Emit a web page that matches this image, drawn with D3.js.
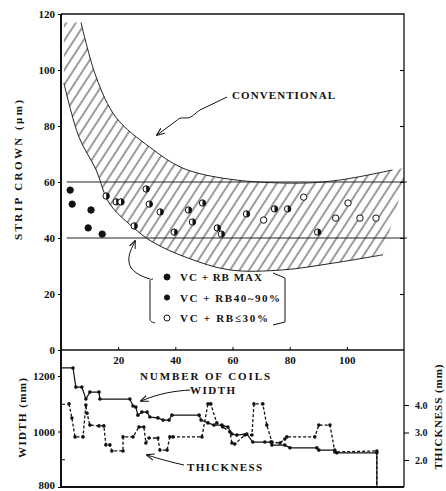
<html>
    <head>
        <meta charset="utf-8">
        <title>Strip Crown vs Number of Coils</title>
        <style type="text/css">
            body{margin:0;background:#fff;}
            text{font-family:"Liberation Serif","DejaVu Serif",serif;font-weight:bold;fill:#111;}
        </style>
        <script src="https://d3js.org/d3.v7.min.js"></script>
    </head>
    <body>
    <svg width="446" height="491"></svg>
    <script>
    // band boundaries (number of coils, crown um)
    var upperX = [7, 12.3, 19.3, 31, 42.5, 59, 83.5, 97.5, 116];
    var upperY = [117, 97.5, 83, 72.5, 65, 61, 59.6, 60.7, 64.3];
    var lowerX = [1, 6.3, 12.3, 16.8, 25, 32, 44, 59, 77.5, 95, 112.6];
    var lowerY = [95.4, 76, 64.3, 52.5, 44, 38.6, 33, 28.6, 28.6, 31, 34];
    var targetLines = [60, 40];

    // measured crowns
    var maxX = [3.2, 3.9, 10.5, 9.5, 14.4];
    var maxY = [57.1, 52.1, 50, 43.6, 41.4];
    var midX = [15.8, 19.3, 21, 29.8, 30.9, 25.6, 34.7, 39.6, 44.6, 46, 49.5, 54.7, 56.1, 64.9, 74.7, 79.3, 89.8];
    var midY = [55, 52.9, 52.9, 57.5, 52.1, 44.3, 49.3, 42.1, 50, 45.7, 52.5, 43.6, 41.4, 48.6, 50.4, 50.4, 42.1];
    var lowX = [70.9, 84.9, 100.4, 96.1, 104.6, 110.2];
    var lowY = [46.4, 54.6, 52.5, 47.1, 47.1, 47.1];

    // width (mm) and thickness (mm) schedule
    var widthX = [0, 4.2, 5.2, 7.3, 8.7, 10.1, 13.3, 13.6, 24.1, 25.2, 26.2, 26.9, 28.3, 30.1, 31.1, 33.9, 35.7, 37.8, 38.8, 48.3, 49, 51.4, 53.5, 56.3, 58.4, 59.8, 61.5, 65, 67.1, 71.3, 73.4, 73.8, 78.3, 80.1, 89.5, 90.2, 95.8, 96.5, 110.5, 110.5];
    var widthY = [1229, 1229, 1160, 1160, 1117, 1142, 1142, 1117, 1117, 1092, 1088, 1059, 1070, 1070, 1052, 1049, 1041, 1041, 1059, 1059, 1041, 1031, 1023, 1023, 1016, 991, 987, 991, 962, 962, 962, 951, 951, 941, 941, 933, 933, 923, 923, 800];
    var thickX = [2.8, 3.8, 4.9, 7.7, 8.7, 9.1, 10.1, 13.3, 15, 15.7, 17.1, 17.8, 21.7, 21.7, 25.2, 27.3, 29, 29.7, 30.8, 33.9, 34.6, 37.1, 38.1, 39.2, 49.3, 51.4, 52.4, 54.5, 56.6, 59.1, 59.8, 60.8, 64.3, 66.8, 67.5, 70.6, 72, 73.8, 76.6, 78.3, 79, 88.8, 90.2, 94.1, 95.8, 110.5, 110.5];
    var thickY = [4.04, 3.53, 2.84, 2.84, 4.0, 3.7, 3.27, 3.24, 3.24, 2.55, 2.55, 2.33, 2.33, 2.84, 2.84, 3.2, 3.2, 2.62, 2.8, 2.8, 2.36, 2.36, 2.84, 2.84, 2.84, 4.04, 4.04, 3.35, 3.2, 3.02, 2.62, 2.58, 2.91, 2.91, 4.04, 4.04, 3.27, 2.65, 2.62, 2.76, 2.84, 2.84, 3.27, 3.27, 2.29, 2.33, 1.02];

    var coilTicks = [20, 40, 60, 80, 100];
    var crownTicks = [0, 20, 40, 60, 80, 100, 120];
    var widthTicks = [800, 1000, 1200];
    var thickTicks = [2, 3, 4];
    var legendLabels = ["VC + RB  MAX", "VC + RB40~90%", "VC + RB\u226430%"];
    var legendLen = [82, 100, 88];

    var svg = d3.select("svg");
    var pLeft = 61, pRight = 404, pTop = 14, pMid = 350, pBottom = 487;

    var x = d3.scaleLinear().domain([0, 120]).range([pLeft, pRight]);
    var y = d3.scaleLinear().domain([0, 120]).range([pMid, pTop]);
    var yW = d3.scaleLinear().domain([800, 1200]).range([pBottom, 376]);
    var yT = d3.scaleLinear().domain([2, 4]).range([460, 405]);

    var zip = (a, b) => a.map((v, i) => [v, b[i]]);
    var upper = zip(upperX, upperY), lower = zip(lowerX, lowerY);

    // hatch pattern
    var defs = svg.append("defs");
    defs.append("pattern")
        .attr("id", "hatch")
        .attr("patternUnits", "userSpaceOnUse")
        .attr("width", 8).attr("height", 8)
        .attr("patternTransform", "rotate(33)")
      .append("line")
        .attr("x1", 4).attr("y1", 0).attr("x2", 4).attr("y2", 8)
        .attr("stroke", "#222").attr("stroke-width", 0.9);
    defs.append("clipPath").attr("id", "plotclip")
      .append("rect").attr("x", pLeft).attr("y", pTop).attr("width", pRight - pLeft).attr("height", pMid - pTop);

    var curve = d3.line().x(d => x(d[0])).y(d => y(d[1])).curve(d3.curveCatmullRom);

    // hatched band: lower curve, right edge, upper curve back, top-left corner
    var lowerD = curve(lower), upperD = curve(upper.slice().reverse());
    svg.append("path")
        .attr("d", lowerD + "L" + x(120) + "," + y(60) + "L" + x(120) + "," + y(65) + "L" + upperD.slice(1) + "L" + x(1) + "," + y(117) + "Z")
        .attr("fill", "url(#hatch)")
        .attr("clip-path", "url(#plotclip)");

    svg.append("path").attr("d", curve(upper)).attr("fill", "none").attr("stroke", "#222").attr("stroke-width", 1);
    svg.append("path").attr("d", curve(lower)).attr("fill", "none").attr("stroke", "#222").attr("stroke-width", 1);

    svg.selectAll(".target").data(targetLines).enter().append("line")
        .attr("x1", x(2)).attr("x2", x(120) + 3)
        .attr("y1", d => y(d)).attr("y2", d => y(d))
        .attr("stroke", "#222").attr("stroke-width", 1);

    // frames
    var frame = svg.append("g").attr("fill", "none").attr("stroke", "#111");
    frame.append("path").attr("d", `M${pLeft},${pTop}H${pRight}V${pBottom}`).attr("stroke-width", 1.3);
    frame.append("path").attr("d", `M${pLeft},${pTop}V${pBottom}H${pRight}`).attr("stroke-width", 2);
    frame.append("line").attr("x1", pLeft).attr("x2", pRight).attr("y1", pMid).attr("y2", pMid).attr("stroke-width", 1.3);

    var styleText = g => g.selectAll("text").attr("font-size", 11).attr("font-family", "Liberation Serif").attr("font-weight", "bold").attr("fill", "#111");

    // crown axis ticks
    svg.append("g").attr("transform", `translate(${pLeft},0)`)
        .call(d3.axisLeft(y).tickValues(crownTicks).tickSize(3).tickPadding(3).tickFormat(d3.format("d")))
        .call(g => g.select(".domain").remove())
        .call(styleText);
    svg.append("g").attr("transform", `translate(${pRight},0)`)
        .call(d3.axisLeft(y).tickValues([20, 40, 60, 80, 100]).tickSize(4).tickFormat(""))
        .call(g => g.select(".domain").remove());
    svg.append("g").attr("transform", `translate(0,${pMid})`)
        .call(d3.axisTop(x).tickValues(coilTicks).tickSize(3).tickFormat(""))
        .call(g => g.select(".domain").remove());
    svg.append("g").attr("transform", `translate(0,${pMid})`)
        .call(d3.axisBottom(x).tickValues(coilTicks).tickSize(0).tickPadding(6).tickFormat(d3.format("d")))
        .call(g => g.select(".domain").remove())
        .call(styleText);

    // width / thickness axes
    svg.append("g").attr("transform", `translate(${pLeft},0)`)
        .call(d3.axisLeft(yW).tickValues(widthTicks).tickSize(3).tickPadding(3).tickFormat(d3.format("d")))
        .call(g => g.select(".domain").remove())
        .call(styleText)
        .call(g => g.selectAll("text").filter(d => d == 800).attr("dy", "0.1em"));
    svg.append("g").attr("transform", `translate(${pLeft},0)`)
        .call(d3.axisRight(yW).tickValues([900, 1100]).tickSize(4).tickFormat(""))
        .call(g => g.select(".domain").remove());
    svg.append("g").attr("transform", `translate(${pRight},0)`)
        .call(d3.axisRight(yT).tickValues(thickTicks).tickSize(5).tickPadding(6).tickFormat(d3.format(".1f")))
        .call(g => g.select(".domain").remove())
        .call(styleText)
        .call(g => g.selectAll("text").attr("font-size", 10));

    // crown points
    var pts = svg.append("g").attr("stroke", "#111").attr("stroke-width", 1);
    pts.selectAll(".pmax").data(zip(maxX, maxY)).enter().append("circle")
        .attr("cx", d => x(d[0])).attr("cy", d => y(d[1])).attr("r", 3.2).attr("fill", "#111");
    var half = pts.selectAll(".pmid").data(zip(midX, midY)).enter().append("g")
        .attr("transform", d => `translate(${x(d[0])},${y(d[1])})`);
    half.append("circle").attr("r", 3.2).attr("fill", "#fff");
    half.append("path").attr("d", "M0,-3.2A3.2,3.2 0 0 1 0,3.2Z").attr("fill", "#111").attr("stroke", "none");
    pts.selectAll(".plow").data(zip(lowX, lowY)).enter().append("circle")
        .attr("cx", d => x(d[0])).attr("cy", d => y(d[1])).attr("r", 3.2).attr("fill", "#fff");

    // width and thickness lines
    var wLine = d3.line().x(d => x(d[0])).y(d => yW(d[1]));
    var tLine = d3.line().x(d => x(d[0])).y(d => yT(d[1]));
    var wData = zip(widthX, widthY), tData = zip(thickX, thickY);
    svg.append("path").attr("d", wLine(wData)).attr("fill", "none").attr("stroke", "#111").attr("stroke-width", 1.2);
    svg.append("path").attr("d", tLine(tData)).attr("fill", "none").attr("stroke", "#111").attr("stroke-width", 1.3).attr("stroke-dasharray", "3,2");
    svg.selectAll(".wdot").data(wData.slice(1, -1)).enter().append("circle")
        .attr("cx", d => x(d[0])).attr("cy", d => yW(d[1])).attr("r", 1.8).attr("fill", "#111");
    svg.selectAll(".tdot").data(tData.slice(0, -1)).enter().append("circle")
        .attr("cx", d => x(d[0])).attr("cy", d => yT(d[1])).attr("r", 1.8).attr("fill", "#111");

    // annotations
    var ann = svg.append("g").attr("fill", "none").attr("stroke", "#111").attr("stroke-width", 1);
    defs.append("marker").attr("id", "arr").attr("viewBox", "0 0 10 10").attr("refX", 9).attr("refY", 5)
        .attr("markerWidth", 8).attr("markerHeight", 8).attr("orient", "auto-start-reverse")
      .append("path").attr("d", "M0,1L10,5L0,9").attr("fill", "none").attr("stroke", "#111").attr("stroke-width", 1.3);
    ann.append("path").attr("d", "M227,97L200,110C195,113 192,118 187,118C182,118 180,117 176,121L157,135").attr("marker-end", "url(#arr)");
    ann.append("path").attr("d", "M190,390C175,391 160,393 141,401").attr("marker-end", "url(#arr)");
    ann.append("path").attr("d", "M184,465C170,462 160,459 147,455").attr("marker-end", "url(#arr)");
    ann.append("path").attr("d", "M153,279C150,279 150,280 150,283V318C150,321 151,322 155,323");
    ann.append("path").attr("d", "M150,279C140,276 130,271 129,262C128,254 132,248 135,241").attr("marker-end", "url(#arr)");
    ann.append("path").attr("d", "M273,273L285,278V322L273,325");

    svg.append("text").attr("x", 232).attr("y", 99).attr("font-size", 11).attr("textLength", 103).text("CONVENTIONAL");
    svg.append("text").attr("x", 190).attr("y", 394).attr("font-size", 11).attr("textLength", 45).text("WIDTH");
    svg.append("text").attr("x", 187).attr("y", 471).attr("font-size", 11).attr("textLength", 75).text("THICKNESS");
    svg.append("text").attr("x", 140).attr("y", 380).attr("font-size", 11).attr("font-weight", "normal").attr("textLength", 130).text("NUMBER OF COILS");

    var legendSym = ["max", "mid", "low"];
    legendLabels.forEach(function(t, i) {
        var ly = 277 + i * 20.5;
        var s = svg.append("g").attr("transform", `translate(167,${ly})`).attr("stroke", "#111");
        s.append("circle").attr("r", legendSym[i] == "mid" ? 2.6 : 3).attr("fill", legendSym[i] == "low" ? "#fff" : "#111");
        svg.append("text").attr("x", 180).attr("y", ly + 4).attr("font-size", 11).attr("textLength", legendLen[i]).text(t);
    });

    svg.append("text").attr("transform", "translate(22,170) rotate(-90)").attr("text-anchor", "middle")
        .attr("font-size", 11).attr("font-family", "Liberation Sans").attr("font-weight", "normal").attr("textLength", 140).text("STRIP CROWN (\u03bcm)");
    svg.append("text").attr("transform", "translate(26,418) rotate(-90)").attr("text-anchor", "middle")
        .attr("font-size", 11).attr("textLength", 80).text("WIDTH (mm)");
    svg.append("text").attr("transform", "translate(442,417) rotate(-90)").attr("text-anchor", "middle")
        .attr("font-size", 11).attr("textLength", 105).text("THICKNESS (mm)");
    </script>
  </body>
</html>
